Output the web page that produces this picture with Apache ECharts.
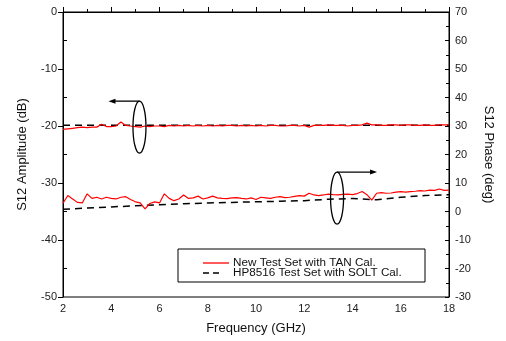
<!DOCTYPE html>
<html><head><meta charset="utf-8">
<script src="https://cdn.jsdelivr.net/npm/echarts@6/dist/echarts.min.js"></script>
<style>html,body{margin:0;padding:0;background:#fff}#c{width:506px;height:341px}</style>
</head><body><div id="c"></div>
<script>
// Frequency grid (GHz) for the new test set traces
const freqNew = [2.0,2.2,2.4,2.6,2.8,3.0,3.2,3.4,3.6,3.8,4.0,4.2,4.4,4.6,4.8,5.0,5.2,5.4,5.6,5.8,6.0,6.2,6.4,6.6,6.8,7.0,7.2,7.4,7.6,7.8,8.0,8.2,8.4,8.6,8.8,9.0,9.2,9.4,9.6,9.8,10.0,10.2,10.4,10.6,10.8,11.0,11.2,11.4,11.6,11.8,12.0,12.2,12.4,12.6,12.8,13.0,13.2,13.4,13.6,13.8,14.0,14.2,14.4,14.6,14.8,15.0,15.2,15.4,15.6,15.8,16.0,16.2,16.4,16.6,16.8,17.0,17.2,17.4,17.6,17.8,18.0];
// New Test Set with TAN Cal. - amplitude (dB)
const ampNew = [-20.6,-20.5,-20.4,-20.3,-20.2,-20.3,-20.2,-20.2,-19.7,-20.1,-20.1,-20.0,-19.3,-19.9,-20.0,-20.1,-20.2,-20.0,-20.1,-20.0,-20.0,-20.1,-19.9,-20.0,-19.9,-20.0,-19.9,-20.0,-19.9,-20.0,-19.9,-20.0,-19.9,-20.0,-19.9,-19.9,-20.0,-19.9,-20.0,-19.9,-20.0,-19.9,-20.0,-19.9,-19.9,-20.0,-20.0,-19.9,-19.9,-20.0,-19.9,-20.2,-19.9,-19.9,-19.9,-19.8,-19.9,-19.9,-19.9,-20.0,-19.9,-19.9,-19.8,-19.5,-19.8,-19.8,-19.9,-19.9,-19.8,-19.8,-19.9,-19.8,-19.8,-19.9,-19.9,-19.8,-19.9,-19.9,-19.8,-19.8,-19.8];
// New Test Set with TAN Cal. - phase (deg)
const phaseNew = [2.9,5.6,4.4,3.2,3.0,6.2,4.6,5.0,4.4,5.0,4.6,4.4,5.0,5.2,4.2,3.4,3.0,0.9,2.8,3.4,3.0,6.2,4.6,3.8,4.4,5.8,4.6,4.8,5.4,4.4,4.8,5.4,4.8,4.6,4.5,4.8,4.9,4.6,4.4,4.8,4.2,5.0,4.8,4.6,5.0,5.2,4.9,5.0,5.3,5.6,5.4,6.4,5.8,5.6,5.8,6.1,5.9,5.8,6.0,6.1,5.9,6.3,7.0,5.9,4.0,6.4,6.6,6.4,6.5,6.8,7.0,6.8,7.0,7.1,7.3,7.2,7.5,7.4,7.9,7.4,7.5];
// HP8516 Test Set with SOLT Cal.
const freqRef = [2,3,4,5,6,7,8,9,10,11,12,13,14,15,16,17,18];
const ampRef = [-19.85,-19.85,-19.85,-19.85,-19.85,-19.85,-19.85,-19.85,-19.85,-19.85,-19.85,-19.85,-19.85,-19.85,-19.85,-19.85,-19.85];
const phaseRef = [0.8,1.2,1.6,2.0,2.4,2.7,3.0,3.2,3.4,3.6,3.8,4.3,4.6,4.1,5.0,5.6,5.9];
// Tick / axis settings
const xTicks = {min:2, max:18, step:2};
const ampTicks = {min:-50, max:0, step:10};
const phaseTicks = {min:-30, max:70, step:10};
const nameNew = 'New Test Set with TAN Cal.';
const nameRef = 'HP8516 Test Set with SOLT Cal.';
// Annotation anchors (data coordinates)
const noteAmp = {x:5.17, y:-20.2};
const notePhase = {x:13.36, y:4.7};

const zip = (a,b) => a.map((v,i)=>[v,b[i]]);
const F = 'Arial, "Liberation Sans", sans-serif';
const chart = echarts.init(document.getElementById('c'), null, {renderer:'canvas'});
const lbl = {color:'#222', fontFamily:F, fontSize:11};
const DASH = [7,5];
chart.setOption({
  animation:false,
  backgroundColor:'#fff',
  grid:{left:63, right:57, top:12, bottom:44, show:true, borderColor:'#000', borderWidth:1, backgroundColor:'transparent'},
  legend:{show:false},
  xAxis:{
    type:'value', min:xTicks.min, max:xTicks.max, interval:xTicks.step,
    name:'Frequency (GHz)', nameLocation:'middle', nameGap:25,
    nameTextStyle:{color:'#111', fontFamily:F, fontSize:13},
    axisLine:{lineStyle:{color:'#000', width:1}},
    axisTick:{inside:true, length:5, lineStyle:{color:'#000'}},
    minorTick:{show:true, splitNumber:2, length:3, lineStyle:{color:'#000'}},
    axisLabel:{...lbl, margin:6},
    splitLine:{show:false}
  },
  yAxis:[{
    type:'value', position:'left', min:ampTicks.min, max:ampTicks.max, interval:ampTicks.step,
    name:'S12 Amplitude (dB)', nameLocation:'middle', nameGap:34,
    nameTextStyle:{color:'#111', fontFamily:F, fontSize:13},
    axisLine:{show:true, lineStyle:{color:'#000', width:1}},
    axisTick:{show:true, inside:false, length:5, lineStyle:{color:'#000'}},
    minorTick:{show:true, splitNumber:2, length:-4, lineStyle:{color:'#000'}},
    axisLabel:{...lbl, margin:6},
    splitLine:{show:false}
  },{
    type:'value', position:'right', min:phaseTicks.min, max:phaseTicks.max, interval:phaseTicks.step,
    name:'S12 Phase (deg)', nameLocation:'middle', nameGap:33, nameRotate:-90,
    nameTextStyle:{color:'#111', fontFamily:F, fontSize:13},
    axisLine:{show:true, lineStyle:{color:'#000', width:1}},
    axisTick:{show:true, inside:true, length:4, lineStyle:{color:'#000'}},
    minorTick:{show:true, splitNumber:2, length:3, lineStyle:{color:'#000'}},
    axisLabel:{...lbl, margin:6},
    splitLine:{show:false}
  }],
  series:[
    {name:nameRef, type:'line', yAxisIndex:0, data:zip(freqRef, ampRef), showSymbol:false, symbol:'none',
     lineStyle:{color:'#000', width:1.5, type:DASH}, itemStyle:{color:'#000'}, z:2},
    {name:nameRef, type:'line', yAxisIndex:1, data:zip(freqRef, phaseRef), showSymbol:false, symbol:'none',
     lineStyle:{color:'#000', width:1.5, type:DASH}, itemStyle:{color:'#000'}, z:2},
    {name:nameNew, type:'line', yAxisIndex:0, data:zip(freqNew, ampNew), showSymbol:false, symbol:'none',
     lineStyle:{color:'#ff0000', width:1.2}, itemStyle:{color:'#ff0000'}, z:3},
    {name:nameNew, type:'line', yAxisIndex:1, data:zip(freqNew, phaseNew), showSymbol:false, symbol:'none',
     lineStyle:{color:'#ff0000', width:1.2}, itemStyle:{color:'#ff0000'}, z:3}
  ]
});

// Annotations positioned from data coordinates
const pa = chart.convertToPixel({xAxisIndex:0, yAxisIndex:0}, [noteAmp.x, noteAmp.y]);
const pp = chart.convertToPixel({xAxisIndex:0, yAxisIndex:1}, [notePhase.x, notePhase.y]);
const rx = 6.5, ry = 26;
const blk = {stroke:'#000', lineWidth:1.3, fill:null};
function arrow(x1, y, x2){
  const d = Math.sign(x2 - x1);
  return [
    {type:'line', shape:{x1:x1, y1:y, x2:x2 - d*5, y2:y}, style:{stroke:'#000', lineWidth:1.3}, z:10},
    {type:'polygon', shape:{points:[[x2, y],[x2 - d*7, y-2.5],[x2 - d*7, y+2.5]]}, style:{fill:'#000'}, z:10}
  ];
}
const legText = {fill:'#111', font:'11.7px ' + F, textVerticalAlign:'middle', textAlign:'left'};
chart.setOption({
  graphic:[
    {type:'rect', shape:{x:178, y:249, width:247, height:33}, style:{fill:'#fff', stroke:'#000', lineWidth:1}, z:5},
    {type:'line', shape:{x1:203, y1:263, x2:229, y2:263}, style:{stroke:'#ff0000', lineWidth:1.3}, z:8},
    {type:'text', x:233, y:263, style:{...legText, text:nameNew}, z:8},
    {type:'line', shape:{x1:203, y1:273, x2:220, y2:273}, style:{stroke:'#000', lineWidth:1.5, lineDash:[6,4]}, z:8},
    {type:'text', x:233, y:273, style:{...legText, text:nameRef}, z:8},
    {type:'ellipse', shape:{cx:pa[0], cy:pa[1], rx:rx, ry:ry}, style:blk, z:10},
    ...arrow(pa[0], pa[1]-ry, pa[0]-31),
    {type:'ellipse', shape:{cx:pp[0], cy:pp[1], rx:rx, ry:ry}, style:blk, z:10},
    ...arrow(pp[0], pp[1]-ry, pp[0]+40)
  ]
});
</script></body></html>
